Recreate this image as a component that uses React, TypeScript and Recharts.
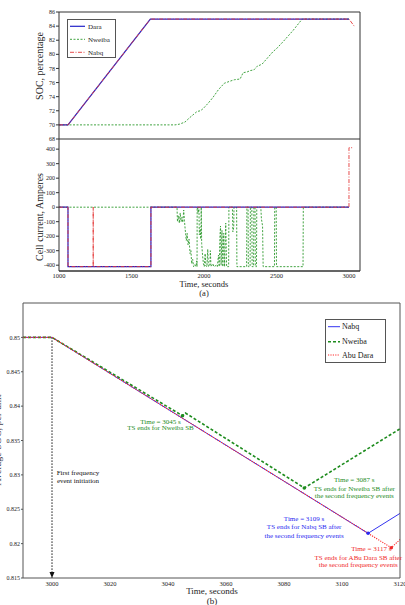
import { LineChart, Line, XAxis, YAxis, ReferenceDot, ReferenceLine } from "recharts";

const FONT = "'Liberation Serif', 'Times New Roman', serif";
const AXIS = "#333";

// ---- (a) upper: state of charge, percent
const DARA_SOC_T = [1000, 1062, 1630, 3000];
const DARA_SOC = [70, 70, 85, 85];
const NWEIBA_SOC_T = [1000, 1800, 1830, 1869, 1900, 1952, 1975, 1994, 2030, 2062, 2100, 2140, 2180, 2210, 2249, 2270, 2297, 2320, 2345, 2366, 2400, 2430, 2477, 2500, 2546, 2615, 2677, 3000];
const NWEIBA_SOC = [70, 70, 70.1, 70.4, 71, 71.9, 72, 72.3, 73.1, 73.9, 75, 75.9, 76.2, 76.4, 76.5, 77.4, 77.5, 77.7, 77.8, 78.3, 78.6, 79.3, 80.4, 80.8, 81.8, 83.4, 85, 85];
const NABQ_SOC_T = [1000, 1062, 1630, 3000, 3036];
const NABQ_SOC = [70, 70, 85, 85, 84];

// ---- (a) lower: cell current, A
const DARA_I_T = [1000, 1062, 1062, 1634, 1634, 3000];
const DARA_I = [0, 0, -410, -410, 0, 0];
const NABQ_I_T = [1000, 1062, 1062, 1236, 1236, 1236, 1634, 1634, 3000, 3000, 3030];
const NABQ_I = [0, 0, -410, -410, 0, -410, -410, 0, 0, 410, 410];
const NWEIBA_I_T = [
  1000, 1814, 1817, 1824, 1830, 1836, 1842, 1848, 1854, 1860,
  1865, 1870, 1878, 1884, 1890, 1897, 1904, 1910, 1915, 1922,
  1928, 1936, 1944, 1950, 1952, 1953, 1960, 1965, 1968, 1974,
  1978, 1981, 1984, 1990, 1996, 2002, 2008, 2013, 2020, 2026,
  2030, 2040, 2044, 2048, 2062, 2068, 2086, 2092, 2100, 2105,
  2110, 2114, 2118, 2124, 2130, 2136, 2142, 2150, 2156, 2170,
  2172, 2196, 2199, 2205, 2207, 2225, 2227, 2294, 2296, 2304,
  2306, 2318, 2320, 2330, 2332, 2342, 2344, 2352, 2354, 2362,
  2364, 2392, 2396, 2404, 2408, 2486, 2488, 2498, 2500, 2683,
  2685, 3000,
];
const NWEIBA_I = [
  0, 0, -100, -60, -110, -40, -100, -70, -105, -20,
  -90, -150, -230, -180, -260, -220, -320, -300, -390, -360,
  -410, -395, -410, -370, -410, 0, -40, 0, -190, -150,
  -220, 0, -250, -330, -390, -410, -320, -405, -410, -290,
  -410, -400, -300, -410, -390, -410, -400, -410, -330, -410,
  -200, -130, -400, -160, -410, -180, -410, -110, -410, -410,
  0, 0, -170, -140, 0, 0, -410, -410, 0, 0,
  -410, -410, 0, 0, -410, -410, 0, 0, -410, -410,
  0, 0, -80, -130, -410, -410, 0, 0, -410, -410,
  0, 0,
];

// ---- (b) average SOC around the second frequency event
const EVENT_T = [3045, 3087, 3109, 3117];
const EVENT_SOC = [0.8386, 0.8281, 0.8215, 0.8194];
const EVENT_TEXT = [
  ["TS ends for Nweiba SB"],
  ["TS ends for Nweiba SB after", "the second frequency events"],
  ["TS ends for Nabq SB after", "the second frequency events"],
  ["TS ends for ABu Dara SB after", "the second frequency events"],
];
const FIRST_EVENT_T = 3000;

const B_NABQ_T = [2990, FIRST_EVENT_T, EVENT_T[2], 3120];
const B_NABQ = [0.85, 0.85, EVENT_SOC[2], 0.8244];
const B_NWEIBA_T = [2990, FIRST_EVENT_T, EVENT_T[0], 3046, EVENT_T[1], 3120];
const B_NWEIBA = [0.85, 0.85, EVENT_SOC[0], 0.839, EVENT_SOC[1], 0.8367];
const B_ABU_T = [2990, FIRST_EVENT_T, EVENT_T[2], EVENT_T[3], 3120];
const B_ABU = [0.85, 0.85, EVENT_SOC[2], EVENT_SOC[3], 0.8206];

// ticks
const TIME_TICKS_A = [1000, 1500, 2000, 2500, 3000];
const SOC_TICKS = [68, 70, 72, 74, 76, 78, 80, 82, 84, 86];
const CURRENT_TICKS = [-400, -300, -200, -100, 0, 100, 200, 300, 400];
const TIME_TICKS_B = [3000, 3020, 3040, 3060, 3080, 3100, 3120];
const TOP_TICKS_B = [3000, 3020, 3040, 3080, 3100];
const AVG_SOC_TICKS = [0.815, 0.82, 0.825, 0.83, 0.835, 0.84, 0.845, 0.85];

const NAMES_A = ["Dara", "Nweiba", "Nabq"];
const NAMES_B = ["Nabq", "Nweiba", "Abu Dara"];

// line styles
const STYLE_A = [
  { color: "#2323c8", dash: undefined, width: 1.2 },
  { color: "#2e9a2e", dash: "2 1.5", width: 0.9 },
  { color: "#e43a3a", dash: "4 1.5 1 1.5", width: 0.9 },
];
const STYLE_B = [
  { color: "#3434f0", dash: undefined, width: 1 },
  { color: "#1e8c1e", dash: "3 2", width: 1.6 },
  { color: "#ff2b2b", dash: "1.2 1.2", width: 1.1 },
];

type Pt = { t: number; v: number };
const zip = (t: number[], v: number[]): Pt[] => t.map((x, i) => ({ t: x, v: v[i] }));
const tickFont = (size: number) => ({ fontSize: size, fill: "#222", fontFamily: FONT });

const series = (data: Pt[], s: { color: string; dash?: string; width: number }) => (
  <Line
    data={data}
    dataKey="v"
    type="linear"
    stroke={s.color}
    strokeWidth={s.width}
    strokeDasharray={s.dash}
    dot={false}
    isAnimationActive={false}
  />
);

function SocPanel() {
  return (
    <LineChart width={405} height={145} margin={{ top: 12, right: 45, bottom: 6, left: 29 }}>
      <XAxis type="number" dataKey="t" domain={[1000, 3076]} ticks={TIME_TICKS_A} interval={0} mirror tick={false} tickSize={3} stroke={AXIS} />
      <XAxis xAxisId="top" orientation="top" type="number" domain={[1000, 3076]} ticks={TIME_TICKS_A} interval={0} mirror tick={false} tickSize={3} stroke={AXIS} />
      <YAxis type="number" domain={[68, 86]} ticks={SOC_TICKS} interval={0} width={30} tickSize={3} tickMargin={1} tick={tickFont(6)} stroke={AXIS} />
      <YAxis yAxisId="right" orientation="right" type="number" domain={[68, 86]} ticks={SOC_TICKS} interval={0} mirror tick={false} tickSize={3} stroke={AXIS} />
      {series(zip(NWEIBA_SOC_T, NWEIBA_SOC), STYLE_A[1])}
      {series(zip(DARA_SOC_T, DARA_SOC), STYLE_A[0])}
      {series(zip(NABQ_SOC_T, NABQ_SOC), STYLE_A[2])}
    </LineChart>
  );
}

function CurrentPanel() {
  return (
    <LineChart width={405} height={150} margin={{ top: 4, right: 45, bottom: 4, left: 29 }}>
      <XAxis type="number" dataKey="t" domain={[1000, 3076]} ticks={TIME_TICKS_A} interval={0} height={10} tickLine={false} tickSize={0} tickMargin={2} tick={tickFont(6.5)} stroke={AXIS} />
      <XAxis xAxisId="inner" type="number" domain={[1000, 3076]} ticks={TIME_TICKS_A} interval={0} mirror tick={false} tickSize={3} stroke={AXIS} />
      <YAxis type="number" domain={[-440, 470]} ticks={CURRENT_TICKS} interval={0} width={30} tickSize={3} tickMargin={1} tick={tickFont(6)} stroke={AXIS} />
      <YAxis yAxisId="right" orientation="right" type="number" domain={[-440, 470]} ticks={CURRENT_TICKS} interval={0} mirror tick={false} tickSize={3} stroke={AXIS} />
      {series(zip(NWEIBA_I_T, NWEIBA_I), STYLE_A[1])}
      {series(zip(DARA_I_T, DARA_I), STYLE_A[0])}
      {series(zip(NABQ_I_T, NABQ_I), STYLE_A[2])}
    </LineChart>
  );
}

// multi-line note drawn next to a reference dot
const note = (lines: string[], color: string, dx: number[], dy: number[]) => (props: any) => {
  const vb = props.viewBox || { x: 0, y: 0, width: 0, height: 0 };
  const cx = vb.x + (vb.width || 0) / 2;
  const cy = vb.y + (vb.height || 0) / 2;
  return (
    <text fill={color} fontSize={7} fontFamily={FONT} textAnchor="middle">
      {lines.map((s, i) => (
        <tspan key={i} x={cx + dx[i]} y={cy + dy[i]}>
          {s}
        </tspan>
      ))}
    </text>
  );
};

const NOTE_COLORS = [STYLE_B[1].color, STYLE_B[1].color, "#2a2af0", "#f02a2a"];
const NOTE_DX = [[-22, -22], [50, 50, 50], [-64, -64, -64], [-20, -33, -33]];
const NOTE_DY = [[8, 14.5], [-5.5, 2.6, 10.3], [-12, -4, 4.5], [3, 12, 19.6]];

function AvgSocPanel() {
  return (
    <LineChart width={420} height={310} margin={{ top: 8, right: 20, bottom: 15, left: 0 }}>
      <XAxis type="number" dataKey="t" domain={[2990, 3120]} ticks={TIME_TICKS_B} interval={0} height={12} tickLine={false} tickSize={0} tickMargin={3} tick={tickFont(6.5)} stroke="#555" />
      <XAxis xAxisId="top" orientation="top" type="number" domain={[2990, 3120]} ticks={TOP_TICKS_B} interval={0} mirror tick={false} tickSize={3} stroke="#555" />
      <YAxis type="number" domain={[0.815, 0.855]} ticks={AVG_SOC_TICKS} interval={0} width={23} tickSize={2} tickMargin={1} tick={tickFont(6)} stroke="#555" />
      <YAxis yAxisId="right" orientation="right" type="number" domain={[0.815, 0.855]} ticks={AVG_SOC_TICKS} interval={0} mirror tick={false} tickSize={3} stroke="#555" />
      <ReferenceLine
        segment={[{ x: FIRST_EVENT_T, y: 0.85 }, { x: FIRST_EVENT_T, y: 0.815 }]}
        stroke="#111"
        strokeWidth={1}
        strokeDasharray="1.5 1.5"
      />
      <ReferenceDot
        x={FIRST_EVENT_T}
        y={0.815}
        r={3}
        shape={(p: any) => (
          <path d={`M${p.cx - 2.5},${p.cy - 6} L${p.cx + 2.5},${p.cy - 6} L${p.cx},${p.cy} Z`} fill="#111" />
        )}
      />
      <ReferenceDot
        x={FIRST_EVENT_T}
        y={0.83}
        r={0}
        fill="none"
        stroke="none"
        label={note(["First frequency", "event initiation"], "#111", [26, 26], [0.6, 8])}
      />
      {series(zip(B_NABQ_T, B_NABQ), STYLE_B[0])}
      {series(zip(B_NWEIBA_T, B_NWEIBA), STYLE_B[1])}
      {series(zip(B_ABU_T, B_ABU), STYLE_B[2])}
      {EVENT_T.map((t, i) => (
        <ReferenceDot
          key={t}
          x={t}
          y={EVENT_SOC[i]}
          r={1.8}
          fill={NOTE_COLORS[i]}
          stroke="none"
          label={note([`Time = ${t} s`, ...EVENT_TEXT[i]], NOTE_COLORS[i], NOTE_DX[i], NOTE_DY[i])}
        />
      ))}
    </LineChart>
  );
}

function LegendBox({ left, top, width, height, names, styles, rows, swatch, textX, size }: any) {
  return (
    <div style={{ position: "absolute", left, top, width, height, background: "#fff", border: "0.8px solid #555", boxSizing: "border-box" }}>
      <svg width={width} height={height} style={{ position: "absolute", left: -1, top: -1 }}>
        {names.map((n: string, i: number) => (
          <g key={n}>
            <line x1={swatch[0]} x2={swatch[1]} y1={rows[i]} y2={rows[i]} stroke={styles[i].color} strokeWidth={styles[i].width} strokeDasharray={styles[i].dash} />
            <text x={textX} y={rows[i] + size * 0.33} fontSize={size} fontFamily={FONT} fill="#222">
              {n}
            </text>
          </g>
        ))}
      </svg>
    </div>
  );
}

function VerticalTitle({ x, y, text, size, color = "#222" }: { x: number; y: number; text: string; size: number; color?: string }) {
  return (
    <div
      style={{
        position: "absolute",
        left: x,
        top: y,
        transform: "translate(-50%, -50%) rotate(-90deg)",
        whiteSpace: "nowrap",
        fontSize: size,
        color,
      }}
    >
      {text}
    </div>
  );
}

function Caption({ x, y, text, size }: { x: number; y: number; text: string; size: number }) {
  return (
    <div style={{ position: "absolute", left: x, top: y, transform: "translate(-50%, -50%)", whiteSpace: "nowrap", fontSize: size, color: "#222" }}>
      {text}
    </div>
  );
}

export default function App() {
  return (
    <div style={{ position: "absolute", left: 0, top: 0, width: 405, height: 605, overflow: "hidden", background: "#fff", fontFamily: FONT }}>
      <div style={{ position: "absolute", left: 0, top: 0 }}>
        <SocPanel />
      </div>
      <div style={{ position: "absolute", left: 0, top: 135 }}>
        <CurrentPanel />
      </div>
      <div style={{ position: "absolute", left: 0, top: 295 }}>
        <AvgSocPanel />
      </div>

      <LegendBox left={67} top={19} width={49} height={39} names={NAMES_A} styles={STYLE_A} rows={[7.3, 20.3, 33.3]} swatch={[3, 18]} textX={21} size={7} />
      <LegendBox left={325} top={319} width={61} height={44} names={NAMES_B} styles={STYLE_B} rows={[7.7, 22.7, 36]} swatch={[3, 15]} textX={17} size={8} />

      <VerticalTitle x={39} y={66} text="SOC, percentage" size={10} />
      <VerticalTitle x={39} y={217} text="Cell current, Amperes" size={10} />
      <VerticalTitle x={-3.5} y={440} text="Average SOC, per unit" size={10} color="#445" />

      <Caption x={204} y={284} text="Time, seconds" size={8.5} />
      <Caption x={204} y={293} text="(a)" size={8.5} />
      <Caption x={212} y={591} text="Time, seconds" size={9} />
      <Caption x={212} y={601} text="(b)" size={9} />
    </div>
  );
}
